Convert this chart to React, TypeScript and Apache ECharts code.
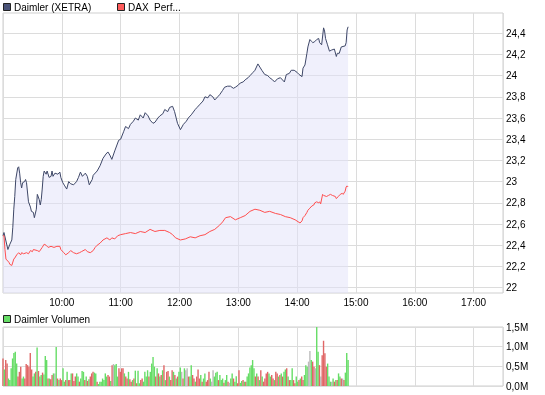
import React, { useEffect, useRef } from "react";
import * as echarts from "echarts";

// minutes after 09:00, price in EUR
const daimler: [number, number][] = [
  [0,22.49],[1,22.52],[5,22.36],[7,22.41],[9,22.45],[10,22.57],[11,22.74],[12,22.86],[13,23.02],[15,23.13],
  [16,23.14],[17,23.08],[18,22.99],[19,22.94],[20,22.99],[22,23.0],[23,23.02],[24,22.99],[26,22.81],[28,22.76],
  [29,22.72],[31,22.71],[32,22.66],[34,22.74],[35,22.88],[37,22.83],[38,22.78],[39,22.83],[40,22.93],[41,23.05],
  [42,23.1],[44,23.07],[45,23.1],[47,23.04],[49,23.05],[50,23.1],[51,23.05],[53,23.08],[56,23.07],[58,23.09],
  [59,23.04],[61,22.99],[63,22.96],[65,22.93],[67,23.0],[69,22.98],[72,22.97],[75,23.0],[77,23.04],[79,23.09],
  [81,23.05],[84,23.08],[86,23.05],[88,22.97],[91,23.02],[92,23.06],[96,23.1],[99,23.15],[102,23.22],[105,23.26],
  [107,23.28],[109,23.25],[111,23.21],[114,23.29],[118,23.39],[120,23.4],[123,23.47],[125,23.52],[128,23.5],[130,23.54],
  [133,23.57],[135,23.6],[138,23.58],[140,23.63],[143,23.6],[145,23.65],[148,23.62],[150,23.58],[153,23.55],[155,23.56],
  [158,23.6],[160,23.62],[163,23.64],[165,23.68],[168,23.66],[170,23.7],[173,23.71],[175,23.66],[178,23.55],[181,23.49],
  [184,23.54],[187,23.57],[189,23.6],[192,23.63],[196,23.68],[198,23.7],[201,23.73],[204,23.76],[206,23.8],[209,23.79],
  [211,23.82],[214,23.8],[216,23.77],[219,23.8],[221,23.82],[224,23.86],[226,23.89],[229,23.9],[232,23.9],[235,23.88],
  [237,23.89],[240,23.91],[242,23.93],[245,23.94],[247,23.96],[250,23.98],[252,24.0],[255,24.03],[257,24.05],[260,24.11],
  [262,24.08],[264,24.05],[267,24.01],[270,24.0],[272,23.98],[275,23.96],[277,23.94],[280,23.97],[283,23.98],[287,23.94],
  [289,24.01],[292,24.02],[294,24.05],[297,24.05],[300,24.03],[302,24.01],[305,23.99],[306,24.07],[308,24.1],[310,24.21],
  [311,24.27],[313,24.34],[315,24.32],[316,24.31],[318,24.32],[320,24.34],[322,24.35],[323,24.31],[325,24.29],[327,24.45],
  [328,24.42],[329,24.35],[331,24.29],[333,24.23],[335,24.24],[338,24.25],[340,24.18],[341,24.21],[343,24.21],[345,24.27],
  [349,24.28],[350,24.31],[351,24.43],[352,24.46]
];

// DAX performance, rebased to the Daimler price scale
const dax: [number, number][] = [
  [0,22.49],[1,22.49],[2,22.36],[3,22.27],[6,22.24],[7,22.22],[9,22.21],[11,22.27],[12,22.28],[14,22.31],
  [16,22.33],[18,22.31],[19,22.33],[21,22.32],[24,22.33],[26,22.32],[28,22.35],[30,22.34],[31,22.36],[35,22.35],
  [37,22.34],[40,22.38],[42,22.41],[44,22.4],[46,22.38],[49,22.39],[52,22.38],[55,22.39],[58,22.39],[59,22.36],
  [62,22.33],[64,22.31],[67,22.33],[69,22.35],[72,22.33],[75,22.32],[78,22.33],[80,22.34],[84,22.36],[86,22.34],
  [89,22.33],[92,22.35],[94,22.38],[96,22.4],[99,22.42],[102,22.45],[106,22.47],[109,22.45],[111,22.47],[114,22.46],
  [117,22.49],[120,22.5],[125,22.51],[130,22.52],[135,22.51],[140,22.53],[145,22.52],[150,22.55],[155,22.53],[160,22.54],
  [165,22.54],[170,22.52],[173,22.5],[176,22.47],[181,22.45],[186,22.46],[191,22.48],[196,22.47],[201,22.49],[206,22.5],
  [211,22.53],[216,22.55],[221,22.59],[224,22.62],[227,22.66],[232,22.67],[237,22.64],[242,22.66],[247,22.68],[252,22.72],
  [257,22.74],[262,22.73],[267,22.71],[272,22.72],[278,22.7],[283,22.69],[288,22.67],[293,22.66],[298,22.64],[303,22.61],
  [305,22.63],[306,22.66],[308,22.68],[310,22.71],[311,22.73],[313,22.75],[315,22.77],[317,22.78],[318,22.8],[320,22.81],
  [322,22.8],[323,22.81],[324,22.79],[326,22.88],[327,22.87],[330,22.86],[332,22.87],[334,22.88],[336,22.87],[339,22.86],
  [340,22.84],[342,22.86],[344,22.88],[346,22.89],[347,22.88],[349,22.91],[350,22.95],[351,22.96],[352,22.95]
];

// volume in millions, one bar per interval from 09:00 to 14:52
const volume: number[] = [
  .70,.42,.66,.57,.19,.15,.45,.70,.84,.87,
  .57,.24,.36,.49,.19,.24,.19,.56,.53,.49,
  .84,.42,.24,.32,.36,.98,.38,.24,.28,.34,
  .29,.76,.66,.19,.19,.17,.28,.32,.32,.99,
  .19,.15,.19,.15,.45,.11,.15,.36,.15,.15,
  .32,.32,.13,.24,.32,.24,.11,.19,.38,.36,
  .15,.24,.13,.17,.24,.32,.36,.34,.32,.11,
  .05,.11,.11,.19,.15,.32,.24,.28,.24,.13,
  .53,.56,.53,.56,.24,.45,.36,.45,.45,.32,
  .24,.19,.36,.17,.11,.15,.19,.39,.07,.39,
  .07,.15,.19,.11,.36,.24,.40,.24,.36,.57,
  .74,.49,.24,.45,.32,.24,.28,.40,.53,.15,
  .36,.38,.24,.15,.40,.36,.28,.19,.24,.36,
  .47,.36,.19,.45,.40,.45,.24,.24,.53,.28,
  .19,.11,.24,.42,.19,.28,.11,.19,.32,.11,
  .15,.36,.19,.11,.40,.24,.34,.36,.15,.28,
  .15,.19,.08,.15,.28,.11,.08,.19,.32,.19,
  .11,.25,.07,.40,.08,.13,.15,.11,.11,.24,
  .32,.47,.53,.66,.45,.24,.32,.24,.15,.40,
  .24,.11,.19,.32,.36,.32,.24,.28,.19,.15,
  .36,.32,.24,.28,.32,.24,.36,.42,.45,.24,
  .15,.15,.45,.15,.07,.24,.11,.15,.19,.24,
  .15,.28,.53,.49,.62,.89,.66,.62,.49,.45,
  1.50,.87,.53,.24,.78,1.15,.83,.49,.57,.24,
  .11,.11,.19,.11,.15,.15,.32,.24,.19,.19,
  .15,.34,.84,.66
];

// g = up, r = down, n = unchanged (one letter per volume bar)
const volumeDir: string =
  "rgrrgggggg" + "grrrggrrrr" + "rrggrgrggr" + "gggrgrrgng" + "rgrrggrgrr" +
  "grrrggrggg" + "rgrgrrrggr" + "gggggggrrg" + "rngggrrrrg" + "rrgrrgrgrg" +
  "grrggggrgg" + "ggrgrgrgrg" + "rrgrrgrgrg" + "gnrgnnrggr" + "rgrrrgrggr" +
  "rrgnngggrg" + "ggrggrnggr" + "ggrrggrgrg" + "gggggrgrgr" + "grrrrggrrg" +
  "rrgrgrggrg" + "rggrrggrgr" + "rgggnngrrn" + "ggrnrrrrgg" + "gngrgrggrn" +
  "rggg";

const priceTicks = [22, 22.2, 22.4, 22.6, 22.8, 23, 23.2, 23.4, 23.6, 23.8, 24, 24.2, 24.4];
const hourLabels = ["10:00", "11:00", "12:00", "13:00", "14:00", "15:00", "16:00", "17:00"];

const FONT = "'Liberation Sans', Arial, sans-serif";
const DIR_COLOR: Record<string, string> = { g: "#66dd66", r: "#e06666", n: "#bbbbbb" };

export default function App() {
  const ref = useRef<HTMLDivElement>(null);
  useEffect(() => {
    if (!ref.current) return;
    const chart = echarts.init(ref.current, null, { renderer: "svg", width: 545, height: 395 });
    const volStep = 352 / (volume.length - 1);
    const fmtComma = (v: number) => (Math.round(v * 10) / 10).toString().replace(".", ",");
    const grid = { show: true, borderColor: "#cfcfcf", borderWidth: 1, backgroundColor: "transparent" };
    const xBase = {
      type: "value" as const,
      min: 0,
      max: 510,
      interval: 60,
      axisLine: { show: false },
      axisTick: { show: false },
      splitLine: { show: true, lineStyle: { color: "#dcdcdc", width: 1 } },
    };
    const option: any = {
      animation: false,
      textStyle: { fontFamily: FONT },
      grid: [
        { ...grid, left: 3, right: 42, top: 13, height: 280 },
        { ...grid, left: 3, right: 42, top: 327, height: 59 },
      ],
      xAxis: [
        {
          ...xBase,
          gridIndex: 0,
          axisLabel: {
            margin: 4,
            fontSize: 10,
            color: "#000",
            fontFamily: FONT,
            formatter: (v: number) => {
              const h = v / 60;
              if (v <= 0 || v >= 510 || !Number.isInteger(h)) return "";
              return hourLabels[h - 1] ?? "";
            },
          },
        },
        { ...xBase, gridIndex: 1, axisLabel: { show: false } },
      ],
      yAxis: [
        {
          type: "value",
          gridIndex: 0,
          position: "right",
          min: 21.95,
          max: 24.59,
          axisLine: { show: false },
          axisTick: { show: false, customValues: priceTicks },
          splitLine: { show: true, lineStyle: { color: "#dcdcdc", width: 1 } },
          axisLabel: {
            customValues: priceTicks,
            margin: 3,
            fontSize: 10,
            color: "#000",
            fontFamily: FONT,
            formatter: fmtComma,
          },
        },
        {
          type: "value",
          gridIndex: 1,
          position: "right",
          min: 0,
          max: 1.5,
          interval: 0.5,
          axisLine: { show: false },
          axisTick: { show: false },
          splitLine: { show: true, lineStyle: { color: "#dcdcdc", width: 1 } },
          axisLabel: {
            margin: 3,
            fontSize: 10,
            color: "#000",
            fontFamily: FONT,
            formatter: (v: number) => v.toFixed(1).replace(".", ",") + "M",
          },
        },
      ],
      series: [
        {
          name: "Daimler (XETRA)",
          type: "line",
          xAxisIndex: 0,
          yAxisIndex: 0,
          data: daimler,
          symbol: "none",
          lineStyle: { color: "#3f4868", width: 1 },
          areaStyle: { color: "rgb(226,226,250)", opacity: 0.5, origin: "start" },
          z: 3,
        },
        {
          name: "DAX Performance",
          type: "line",
          xAxisIndex: 0,
          yAxisIndex: 0,
          data: dax,
          symbol: "none",
          lineStyle: { color: "#ff4f4f", width: 1 },
          z: 4,
        },
        {
          name: "Daimler Volumen",
          type: "bar",
          xAxisIndex: 1,
          yAxisIndex: 1,
          barWidth: 1.4,
          data: volume.map((v, i) => ({
            value: [i * volStep, v],
            itemStyle: { color: DIR_COLOR[volumeDir[i]] || DIR_COLOR.n },
          })),
        },
      ],
      graphic: [
        { type: "rect", shape: { x: 3.5, y: 3.5, width: 7, height: 7 }, style: { fill: "#4a5378", stroke: "#222", lineWidth: 1 } },
        { type: "text", x: 14, y: 7.5, style: { text: "Daimler (XETRA)", font: `10px ${FONT}`, fill: "#000", textVerticalAlign: "middle" } },
        { type: "rect", shape: { x: 117.5, y: 3.5, width: 7, height: 7 }, style: { fill: "#ff5c5c", stroke: "#222", lineWidth: 1 } },
        { type: "text", x: 128, y: 7.5, style: { text: "DAX\u00a0 Perf...", font: `10px ${FONT}`, fill: "#000", textVerticalAlign: "middle" } },
        { type: "rect", shape: { x: 3.5, y: 315.5, width: 7, height: 7 }, style: { fill: "#66dd66", stroke: "#222", lineWidth: 1 } },
        { type: "text", x: 14, y: 319.5, style: { text: "Daimler Volumen", font: `10px ${FONT}`, fill: "#000", textVerticalAlign: "middle" } },
      ],
    };
    chart.setOption(option);
    return () => chart.dispose();
  }, []);
  return <div ref={ref} style={{ position: "fixed", left: 0, top: 0, width: 545, height: 395 }} />;
}
